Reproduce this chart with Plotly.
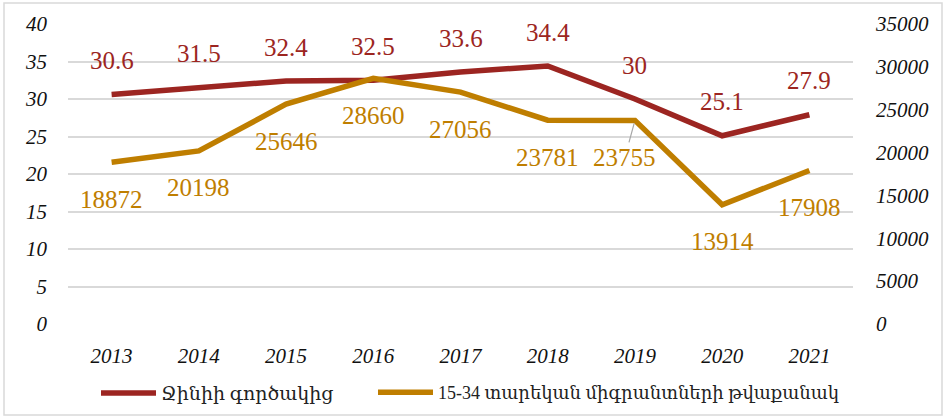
import plotly.graph_objects as go

years = ["2013", "2014", "2015", "2016", "2017", "2018", "2019", "2020", "2021"]
gini = [30.6, 31.5, 32.4, 32.5, 33.6, 34.4, 30, 25.1, 27.9]
migrants = [18872, 20198, 25646, 28660, 27056, 23781, 23755, 13914, 17908]
gini_name = "Ջինիի գործակից"
migr_name = "15-34 տարեկան միգրանտների թվաքանակ"

RED = "#9C2521"
GOLD = "#BF7E00"
SERIF = "Liberation Serif"
ARM = "Liberation Serif, DejaVu Serif"

fig = go.Figure()
fig.add_trace(go.Scatter(x=years, y=gini, mode="lines", name=gini_name,
                         line=dict(color=RED, width=5.5), yaxis="y", legend="legend"))
fig.add_trace(go.Scatter(x=years, y=migrants, mode="lines", name=migr_name,
                         line=dict(color=GOLD, width=5.5), yaxis="y2", legend="legend2"))

for i, v in enumerate(gini):
    fig.add_annotation(x=i, y=v, xref="x", yref="y", text=str(v), showarrow=False,
                       yshift=34, font=dict(family=SERIF, size=25, color=RED))
for i, (x, v) in enumerate(zip(years, migrants)):
    if x == "2019":
        fig.add_annotation(x=i, y=v, xref="x", yref="y2", text=str(v), showarrow=True,
                           arrowhead=0, arrowwidth=1.2, arrowcolor="#A6A6A6",
                           ax=-10, ay=37, standoff=3,
                           font=dict(family=SERIF, size=25, color=GOLD))
    else:
        fig.add_annotation(x=i, y=v, xref="x", yref="y2", text=str(v), showarrow=False,
                           yshift=-37, font=dict(family=SERIF, size=25, color=GOLD))

L, R, T, B = 68, 93, 24, 94
W, H = 946, 418
pw, ph = W - L - R, H - T - B

legend_common = dict(orientation="h", xanchor="left", y=-0.167, yanchor="top",
                     itemwidth=55, bgcolor="rgba(0,0,0,0)")

fig.update_layout(
    width=W, height=H,
    margin=dict(l=L, r=R, t=T, b=B, autoexpand=False),
    plot_bgcolor="white", paper_bgcolor="white",
    showlegend=True,
    legend=dict(x=(96 - L) / pw, font=dict(family=ARM, size=19, color="#222222"),
                **legend_common),
    legend2=dict(x=(373 - L) / pw, font=dict(family=ARM, size=18, color="#222222"),
                 **legend_common),
    xaxis=dict(type="category", range=[-0.5, 8.5], showgrid=False, zeroline=False,
               showline=False, ticks="", ticklabelstandoff=17,
               tickfont=dict(family=SERIF, size=21, color="#111111", style="italic")),
    yaxis=dict(range=[0, 40], dtick=5, showgrid=True, gridcolor="#D9D9D9", gridwidth=1.5,
               zeroline=False, showline=False, ticks="", ticklabelstandoff=20,
               tickfont=dict(family=SERIF, size=21, color="#111111", style="italic")),
    yaxis2=dict(range=[0, 35000], dtick=5000, overlaying="y", side="right",
                showgrid=False, zeroline=False, showline=False, ticks="",
                ticklabelstandoff=22, tickformat="d",
                tickfont=dict(family=SERIF, size=21, color="#111111", style="italic")),
    shapes=[dict(type="rect", xref="paper", yref="paper",
                 x0=(4 - L) / pw, x1=(942 - L) / pw,
                 y0=(H - B - 415) / ph, y1=(H - B - 3) / ph,
                 line=dict(color="#D9D9D9", width=1.5), fillcolor="rgba(0,0,0,0)",
                 layer="below")],
)

fig.write_html("out.html", config={"displayModeBar": False},
               post_script="document.body.style.margin='0';")
